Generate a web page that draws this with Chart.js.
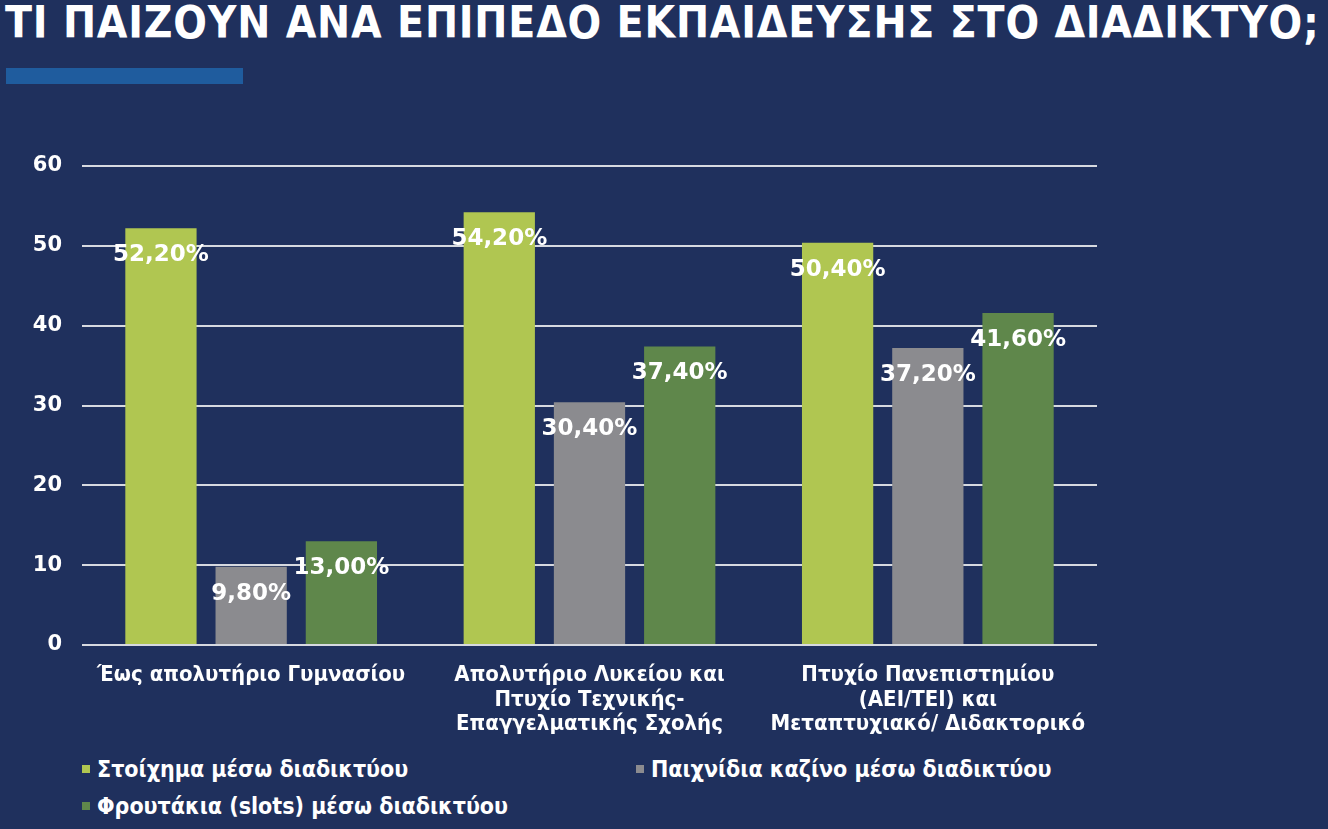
<!DOCTYPE html>
<html lang="el">
<head>
<meta charset="utf-8">
<title>Τι παίζουν ανά επίπεδο εκπαίδευσης στο διαδίκτυο</title>
<script src="https://cdn.jsdelivr.net/npm/chart.js@4.4.1/dist/chart.umd.min.js"></script>
<style>
  html, body { margin: 0; padding: 0; }
  body {
    width: 1328px; height: 829px; overflow: hidden; position: relative;
    background: #1f305d; color: #fff;
  }
  #title {
    position: absolute; left: 5px; top: -3px; white-space: nowrap;
    font-family: "DejaVu Sans Condensed", "DejaVu Sans", sans-serif;
    font-weight: bold; font-size: 44px; line-height: 52px; letter-spacing: 0.8px;
  }
  #bar { position: absolute; left: 6px; top: 68px; width: 237px; height: 16px; background: #1f5c9e; }
  #chart-wrap { position: absolute; left: 0; top: 140px; width: 1328px; height: 610px; }
  .legend-item {
    position: absolute; white-space: nowrap;
    font-family: "DejaVu Sans Condensed", "DejaVu Sans", sans-serif;
    font-weight: bold; font-size: 23px; line-height: 26px;
  }
  .legend-item i { display: inline-block; width: 8px; height: 8px; margin-right: 7px; vertical-align: 4px; }
</style>
</head>
<body>
<div id="title">ΤΙ ΠΑΙΖΟΥΝ ΑΝΑ ΕΠΙΠΕΔΟ ΕΚΠΑΙΔΕΥΣΗΣ ΣΤΟ ΔΙΑΔΙΚΤΥΟ;</div>
<div id="bar"></div>
<div id="chart-wrap"><canvas id="chart" width="1328" height="610"></canvas></div>
<div id="legend"></div>

<script>
// categories (multi-line labels as in the slide)
const categories = [
    ['Έως απολυτήριο Γυμνασίου'],
    ['Απολυτήριο Λυκείου και', 'Πτυχίο Τεχνικής-', 'Επαγγελματικής Σχολής'],
    ['Πτυχίο Πανεπιστημίου', '(ΑΕΙ/ΤΕΙ) και', 'Μεταπτυχιακό/ Διδακτορικό']
];
const seriesNames = ['Στοίχημα μέσω διαδικτύου', 'Παιχνίδια καζίνο μέσω διαδικτύου', 'Φρουτάκια (slots) μέσω διαδικτύου'];
const betting = [52.2, 54.2, 50.4];
const casino = [9.8, 30.4, 37.2];
const slots = [13.0, 37.4, 41.6];
const seriesColors = ['#b0c651', '#8b8b8f', '#5f874b'];
const yTicks = [0, 10, 20, 30, 40, 50, 60];

const labelFont = '"DejaVu Sans Condensed", "DejaVu Sans", sans-serif';

// legend in two columns like the slide
const legendPos = [[82, 756], [636, 756], [82, 793]];
const legend = document.getElementById('legend');
seriesNames.forEach((name, i) => {
    const d = document.createElement('div');
    d.className = 'legend-item';
    d.style.left = legendPos[i][0] + 'px';
    d.style.top = legendPos[i][1] + 'px';
    d.innerHTML = `<i style="background:${seriesColors[i]}"></i>${name}`;
    legend.appendChild(d);
});

// value labels a bit below the top of each bar, "52,20%" style
const valueLabels = {
    id: 'valueLabels',
    afterDatasetsDraw(chart) {
        const ctx = chart.ctx;
        ctx.save();
        ctx.font = 'bold 23px "DejaVu Sans", Verdana, sans-serif';
        ctx.fillStyle = '#ffffff';
        ctx.textAlign = 'center';
        ctx.textBaseline = 'middle';
        chart.data.datasets.forEach((ds, di) => {
            chart.getDatasetMeta(di).data.forEach((bar, i) => {
                const txt = ds.data[i].toFixed(2).replace('.', ',') + '%';
                ctx.fillText(txt, bar.x, bar.y + 27);
            });
        });
        ctx.restore();
    }
};

const ctx = document.getElementById('chart').getContext('2d');
new Chart(ctx, {
    type: 'bar',
    data: {
        labels: categories,
        datasets: [
            { label: seriesNames[0], data: betting, backgroundColor: seriesColors[0] },
            { label: seriesNames[1], data: casino, backgroundColor: seriesColors[1] },
            { label: seriesNames[2], data: slots, backgroundColor: seriesColors[2] }
        ]
    },
    options: {
        responsive: false,
        animation: false,
        devicePixelRatio: 1,
        layout: { padding: { top: 26, right: 231, left: 0, bottom: 0 } },
        datasets: { bar: { categoryPercentage: 0.8, barPercentage: 0.79 } },
        scales: {
            x: {
                grid: { display: false, drawTicks: false },
                border: { display: false },
                ticks: {
                    color: '#ffffff',
                    padding: 18,
                    maxRotation: 0,
                    autoSkip: false,
                    font: { family: labelFont, weight: 'bold', size: 22, lineHeight: 1.12 }
                },
                afterFit: s => { s.height = 105; }
            },
            y: {
                min: 0,
                max: 60,
                afterBuildTicks: s => { s.ticks = yTicks.map(v => ({ value: v })); },
                grid: { color: '#d6d9e0', lineWidth: 2, drawTicks: false },
                border: { display: false },
                ticks: {
                    color: '#ffffff',
                    padding: 20,
                    font: { family: '"DejaVu Sans", Verdana, sans-serif', weight: 'bold', size: 21 }
                },
                // keep the tick padding from pushing the plot area down
                afterFit: s => { s.width = 82; s.paddingTop = 0; s.paddingBottom = 0; }
            }
        },
        plugins: {
            legend: { display: false },
            tooltip: { enabled: false }
        }
    },
    plugins: [valueLabels]
});
</script>
</body>
</html>
